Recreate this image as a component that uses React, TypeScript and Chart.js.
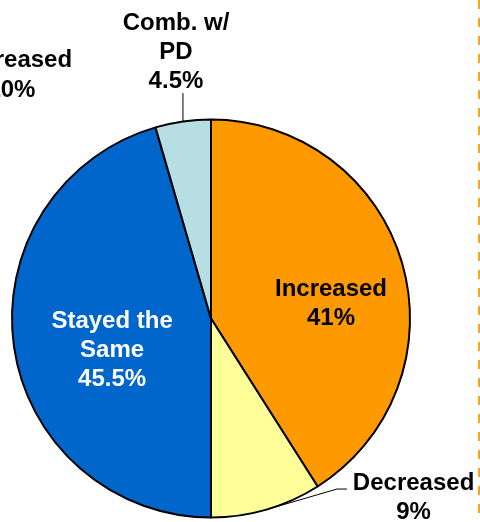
import React, { useEffect, useRef } from "react";
import { Chart, registerables } from "chart.js";

Chart.register(...registerables);

const categories = ["Increased", "Decreased", "Stayed the Same", "Comb. w/ PD"];
const values = [41, 9, 45.5, 4.5];
const valueLabels = ["41%", "9%", "45.5%", "4.5%"];
const sliceColors = ["#FF9900", "#FFFF99", "#0066CC", "#B7DEE2"];

// label text lines per slice
const labelLines = [["Increased", "41%"], ["Decreased", "9%"], ["Stayed the", "Same", "45.5%"], ["Comb. w/", "PD", "4.5%"]];
const labelColors = ["#000000", "#000000", "#FFFFFF", "#000000"];
// placement relative to pie centre, in radius units (x centre, first baseline)
const labelPlace = [[0.603, -0.113], [1.018, 0.862], [-0.497, 0.048], [-0.176, -1.45]];
// neighbouring panel label (cut off at the left edge)
const sideLabel = ["Decreased", "10%"];
const sidePlace = [-1.003, -1.264];

const FONT = "bold 24px 'Liberation Sans', Arial, sans-serif";

const overlay = {
  id: "overlay",
  afterDraw(chart: any) {
    const ctx = chart.ctx;
    const meta = chart.getDatasetMeta(0);
    const arc0 = meta.data[0];
    const cx = arc0.x, cy = arc0.y, r = arc0.outerRadius;
    ctx.save();
    // leader lines
    ctx.strokeStyle = "#000";
    ctx.lineWidth = 1;
    const edge = (i: number) => {
      const a = meta.data[i];
      const mid = (a.startAngle + a.endAngle) / 2;
      return [cx + Math.cos(mid) * r, cy + Math.sin(mid) * r];
    };
    // Comb. w/ PD
    let [ex, ey] = edge(3);
    ctx.beginPath();
    ctx.moveTo(ex, ey);
    ctx.lineTo(ex, cy - 1.133 * r);
    ctx.stroke();
    // Decreased
    [ex, ey] = edge(1);
    ctx.beginPath();
    ctx.moveTo(ex, ey);
    ctx.lineTo(cx + 0.633 * r, cy + 0.857 * r);
    ctx.lineTo(cx + 0.683 * r, cy + 0.857 * r);
    ctx.stroke();

    // labels
    ctx.font = FONT;
    ctx.textAlign = "center";
    ctx.textBaseline = "alphabetic";
    const lh = 29;
    labelLines.forEach((lines, i) => {
      const [px, py] = labelPlace[i];
      ctx.fillStyle = labelColors[i];
      lines.forEach((t, j) => ctx.fillText(t, cx + px * r, cy + py * r + j * lh));
    });
    ctx.fillStyle = "#000";
    sideLabel.forEach((t, j) => ctx.fillText(t, cx + sidePlace[0] * r, cy + sidePlace[1] * r + j * lh + (j ? 1 : 0)));

    // dashed panel separator
    ctx.strokeStyle = "#F5A623";
    ctx.lineWidth = 2;
    ctx.setLineDash([9, 9]);
    ctx.beginPath();
    ctx.moveTo(479, 0);
    ctx.lineTo(479, chart.height);
    ctx.stroke();
    ctx.restore();
  },
};

export default function App() {
  const ref = useRef<HTMLCanvasElement | null>(null);
  useEffect(() => {
    document.body.style.margin = "0";
    const chart = new Chart(ref.current as HTMLCanvasElement, {
      type: "pie",
      data: {
        labels: categories,
        datasets: [
          {
            data: values,
            backgroundColor: sliceColors,
            borderColor: "#000000",
            borderWidth: 2,
            radius: 199,
          } as any,
        ],
      },
      options: {
        responsive: false,
        animation: false,
        layout: { padding: { left: 12, right: 70, top: 120, bottom: 5 } },
        plugins: { legend: { display: false }, tooltip: { enabled: false } },
      },
      plugins: [overlay],
    });
    return () => chart.destroy();
  }, []);
  return <canvas ref={ref} width={480} height={522} style={{ display: "block" }} />;
}
